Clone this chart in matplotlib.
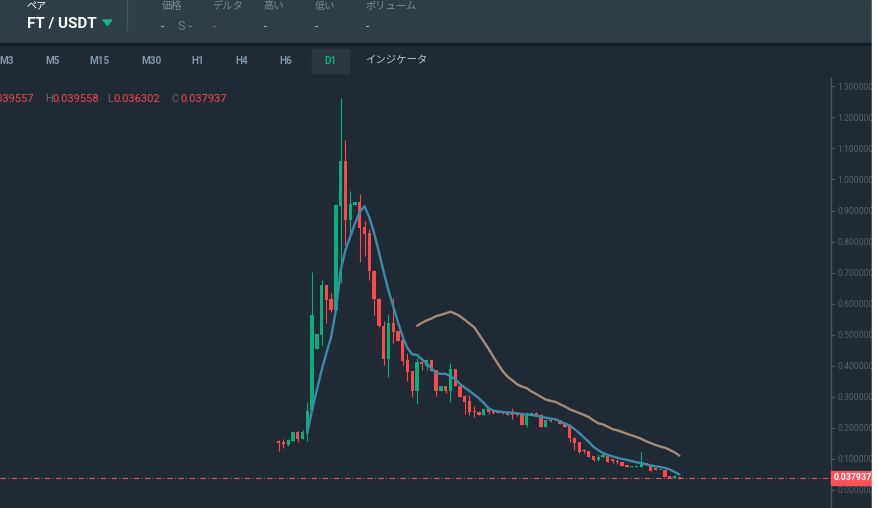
import matplotlib
matplotlib.use("Agg")
import matplotlib.pyplot as plt
import numpy as np
from matplotlib.patches import Rectangle, Polygon

plt.rcParams['font.family'] = ['Roboto', 'Noto Sans CJK JP', 'DejaVu Sans']

# daily candles FT/USDT (index = day)
opens = [0.159, 0.155, 0.146, 0.159, 0.187, 0.165, 0.187, 0.258, 0.453, 0.499,
         0.660, 0.615, 0.580, 0.915, 1.060, 0.870, 0.919, 0.927, 0.848, 0.827,
         0.706, 0.615, 0.529, 0.423, 0.537, 0.512, 0.483, 0.418, 0.383, 0.319,
         0.413, 0.400, 0.419, 0.387, 0.319, 0.335, 0.319, 0.390, 0.336, 0.302,
         0.287, 0.255, 0.251, 0.242, 0.260, 0.254, 0.254, 0.249, 0.249, 0.250,
         0.246, 0.242, 0.210, 0.240, 0.249, 0.242, 0.204, 0.227, 0.228, 0.225,
         0.212, 0.206, 0.166, 0.156, 0.127, 0.126, 0.109, 0.097, 0.105, 0.111,
         0.099, 0.093, 0.091, 0.080, 0.075, 0.075, 0.075, 0.088, 0.080, 0.070,
         0.063, 0.064, 0.041, 0.040, 0.039557]
highs = [0.161, 0.163, 0.165, 0.188, 0.190, 0.194, 0.283, 0.702, 0.502, 0.676,
         0.660, 0.633, 0.918, 1.262, 1.127, 0.963, 0.927, 0.953, 0.867, 0.841,
         0.710, 0.617, 0.545, 0.567, 0.617, 0.512, 0.483, 0.442, 0.383, 0.424,
         0.425, 0.423, 0.419, 0.387, 0.335, 0.335, 0.409, 0.390, 0.336, 0.306,
         0.306, 0.272, 0.253, 0.260, 0.262, 0.256, 0.254, 0.252, 0.256, 0.263,
         0.250, 0.242, 0.251, 0.250, 0.251, 0.245, 0.226, 0.230, 0.233, 0.225,
         0.212, 0.209, 0.171, 0.156, 0.133, 0.126, 0.109, 0.116, 0.120, 0.111,
         0.099, 0.099, 0.091, 0.080, 0.077, 0.078, 0.123, 0.088, 0.080, 0.070,
         0.065, 0.064, 0.042, 0.048, 0.039558]
lows = [0.124, 0.135, 0.141, 0.158, 0.153, 0.165, 0.159, 0.257, 0.453, 0.467,
        0.539, 0.574, 0.580, 0.667, 0.789, 0.821, 0.919, 0.735, 0.755, 0.676,
        0.564, 0.525, 0.401, 0.365, 0.474, 0.481, 0.403, 0.351, 0.300, 0.277,
        0.386, 0.386, 0.383, 0.304, 0.319, 0.312, 0.284, 0.336, 0.300, 0.245,
        0.242, 0.234, 0.243, 0.242, 0.246, 0.246, 0.247, 0.246, 0.243, 0.228,
        0.237, 0.210, 0.204, 0.240, 0.243, 0.204, 0.204, 0.218, 0.222, 0.211,
        0.204, 0.156, 0.129, 0.118, 0.118, 0.107, 0.093, 0.093, 0.105, 0.091,
        0.086, 0.083, 0.078, 0.075, 0.075, 0.075, 0.075, 0.079, 0.062, 0.064,
        0.063, 0.041, 0.040, 0.040, 0.036302]
closes = [0.152, 0.148, 0.161, 0.187, 0.165, 0.187, 0.254, 0.564, 0.502, 0.660,
          0.612, 0.580, 0.918, 1.060, 0.870, 0.921, 0.927, 0.845, 0.824, 0.706,
          0.614, 0.529, 0.423, 0.537, 0.510, 0.481, 0.415, 0.381, 0.319, 0.412,
          0.406, 0.418, 0.384, 0.319, 0.335, 0.319, 0.390, 0.336, 0.300, 0.284,
          0.252, 0.250, 0.243, 0.260, 0.252, 0.249, 0.248, 0.247, 0.243, 0.242,
          0.240, 0.210, 0.243, 0.248, 0.243, 0.204, 0.226, 0.222, 0.224, 0.211,
          0.204, 0.166, 0.152, 0.123, 0.125, 0.107, 0.097, 0.107, 0.112, 0.091,
          0.094, 0.090, 0.078, 0.075, 0.077, 0.077, 0.088, 0.079, 0.062, 0.064,
          0.065, 0.041, 0.040, 0.042, 0.037937]

# moving average lines (start index + values)
ma_fast_start = 6
ma_fast = [0.183, 0.258, 0.322, 0.386, 0.441, 0.493, 0.580, 0.709, 0.773, 0.816,
           0.859, 0.896, 0.914, 0.878, 0.828, 0.767, 0.703, 0.643, 0.592, 0.541,
           0.493, 0.457, 0.437, 0.435, 0.421, 0.408, 0.392, 0.376, 0.374, 0.374,
           0.366, 0.357, 0.341, 0.330, 0.319, 0.307, 0.295, 0.280, 0.263, 0.256,
           0.253, 0.251, 0.250, 0.249, 0.247, 0.245, 0.243, 0.242, 0.239, 0.236,
           0.233, 0.230, 0.228, 0.221, 0.214, 0.208, 0.196, 0.184, 0.169, 0.155,
           0.139, 0.128, 0.119, 0.113, 0.108, 0.104, 0.100, 0.097, 0.093, 0.089,
           0.087, 0.083, 0.079, 0.076, 0.074, 0.071, 0.066, 0.058, 0.050]
ma_slow_start = 29
ma_slow = [0.529, 0.538, 0.546, 0.552, 0.560, 0.564, 0.569, 0.574, 0.568, 0.560,
           0.548, 0.536, 0.524, 0.501, 0.478, 0.455, 0.429, 0.405, 0.382, 0.365,
           0.353, 0.340, 0.333, 0.328, 0.317, 0.309, 0.300, 0.291, 0.287, 0.284,
           0.276, 0.269, 0.260, 0.254, 0.248, 0.242, 0.235, 0.224, 0.215, 0.211,
           0.204, 0.196, 0.192, 0.187, 0.181, 0.176, 0.171, 0.165, 0.157, 0.151,
           0.145, 0.140, 0.136, 0.129, 0.121, 0.111]

price_ticks = [0.0, 0.1, 0.2, 0.3, 0.4, 0.5, 0.6, 0.7, 0.8, 0.9, 1.0, 1.1, 1.2, 1.3]
timeframes = ['M3', 'M5', 'M15', 'M30', 'H1', 'H4', 'H6', 'D1']
header_cols = ['価格', 'デルタ', '高い', '低い', 'ボリューム']

BG = '#202a34'
HEAD = '#2f3d46'
GREEN = '#0aae7b'
RED = '#f9494f'

W, H = 879, 508
fig = plt.figure(figsize=(W / 100, H / 100), dpi=100, facecolor=BG)


def px(x, y):
    return x / W, 1 - y / H


# header + toolbar backgrounds
fig.patches.append(Rectangle(px(0, 43), 1, 43 / H, transform=fig.transFigure, color=HEAD, zorder=0))
fig.patches.append(Rectangle(px(0, 45), 1, 2 / H, transform=fig.transFigure, color='#141d24', zorder=0))

# main chart
ax = fig.add_axes([0, 0, 831 / W, 430 / H])
ax.set_facecolor(BG)
x = np.arange(len(opens))
o = np.array(opens)
c = np.array(closes)
up = c >= o
cols = np.where(up, GREEN, RED)
ax.vlines(x, lows, highs, colors=cols, lw=0.8, zorder=3)
bottoms = np.minimum(o, c)
heights = np.maximum(np.abs(c - o), 0.0035)
ax.bar(x, heights, bottom=bottoms, width=0.7, color=cols, linewidth=0, zorder=4)

ax.plot(np.arange(ma_fast_start, ma_fast_start + len(ma_fast)), ma_fast,
        color='#3a8aa8', lw=1.7, zorder=5, solid_capstyle='round')
ax.plot(np.arange(ma_slow_start, ma_slow_start + len(ma_slow)), ma_slow,
        color='#a68b76', lw=1.7, zorder=5, solid_capstyle='round')

ax.axhline(closes[-1], color='#e0535a', lw=0.8, ls=(0, (5, 2, 1, 2)), zorder=2)

ax.set_xlim(-58.43, 115.79)
ax.set_ylim(-0.058, 1.3269)
ax.yaxis.tick_right()
ax.set_yticks(price_ticks)
ax.set_yticklabels([f'{v:.6f}' for v in price_ticks])
ax.tick_params(axis='y', direction='out', length=3, width=0.8, color='#4b565f',
               labelcolor='#58626b', labelsize=6.2, pad=1.5)
ax.set_xticks([1, 14.5, 31])
ax.tick_params(axis='x', length=0, labelbottom=False)
ax.grid(True, color='#232e38', lw=0.6)
for s in ['top', 'left', 'bottom']:
    ax.spines[s].set_visible(False)
ax.spines['right'].set_color('#4b565f')
ax.spines['right'].set_linewidth(1)

# last price badge
fig.patches.append(Rectangle(px(831, 484.5), 41 / W, 13.5 / H, transform=fig.transFigure,
                             color='#f6545a', zorder=10))
fig.text(*px(834, 478), f'{closes[-1]:.6f}', color='white', fontsize=6.4, fontweight='bold',
         va='center', ha='left', zorder=11)

# header texts
fig.text(*px(27, 6), 'ペア', color='white', fontsize=7.2, va='center', family=['Noto Sans CJK JP'])
fig.text(*px(27, 24), 'FT / USDT', color='white', fontsize=11, fontweight='bold', va='center')
fig.patches.append(Polygon([px(103, 20), px(112, 20), px(107.5, 25.5)], closed=True,
                           transform=fig.transFigure, color='#13b583', zorder=2))
fig.lines.append(plt.Line2D([127.5 / W, 127.5 / W], [1, 1 - 30 / H], transform=fig.transFigure,
                            color='#45535c', lw=1))
for name, xx in zip(header_cols, [161.5, 212.5, 263.5, 314.5, 365.5]):
    fig.text(*px(xx, 5.8), name, color='#7d8a93', fontsize=7.4, va='center', family=['Noto Sans CJK JP'])
fig.text(*px(161, 27), '-', color='#c8d0d6', fontsize=8, va='center')
fig.text(*px(178, 27), 'S -', color='#6f8290', fontsize=9, va='center')
fig.text(*px(213, 27), '-', color='#e5484d', fontsize=8, va='center')
for xx in [264, 315, 366]:
    fig.text(*px(xx, 27), '-', color='#c8d0d6', fontsize=8, va='center')

# toolbar
fig.patches.append(Rectangle(px(312, 72.5), 37 / W, 23.5 / H, transform=fig.transFigure,
                             color='#2b363e', zorder=1))
for name, xx in zip(timeframes, [7, 53, 100, 151, 198, 242, 286, 330.5]):
    fig.text(*px(xx, 60.5), name, color=GREEN if name == 'D1' else '#8196a9',
             fontsize=7.2, fontweight='bold', ha='center', va='center', zorder=3)
fig.text(*px(396, 60.5), 'インジケータ', color='#bcc3c9', fontsize=7.5, ha='center', va='center',
         family=['Noto Sans CJK JP'])

# OHLC line
txt_red = '#f0474f'
txt_gray = '#5f6a72'
fig.text(*px(34, 98.5), f'{opens[-1]:.6f}', color=txt_red, fontsize=8, ha='right', va='center')
fig.text(*px(45, 98.5), 'H', color=txt_gray, fontsize=8, va='center')
fig.text(*px(52, 98.5), f'{highs[-1]:.6f}', color=txt_red, fontsize=8, va='center')
fig.text(*px(107, 98.5), 'L', color=txt_gray, fontsize=8, va='center')
fig.text(*px(113, 98.5), f'{lows[-1]:.6f}', color=txt_red, fontsize=8, va='center')
fig.text(*px(171, 98.5), 'C', color=txt_gray, fontsize=8, va='center')
fig.text(*px(180, 98.5), f'{closes[-1]:.6f}', color=txt_red, fontsize=8, va='center')

# white strip on the right edge
fig.patches.append(Rectangle((872 / W, 0), 7 / W, 1, transform=fig.transFigure,
                             color='white', zorder=20))

fig.savefig('out.png', dpi=100, facecolor=BG)
